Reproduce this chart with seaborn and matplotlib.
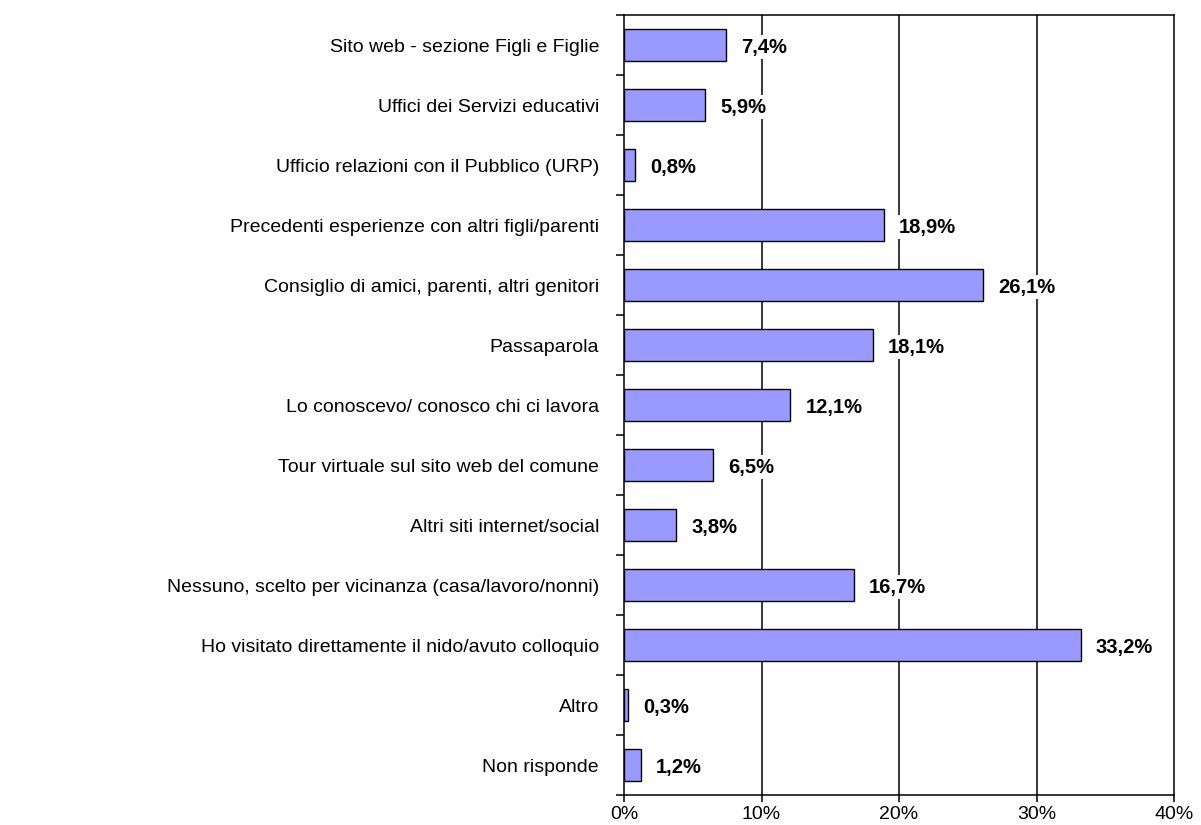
import numpy as np
import pandas as pd
import matplotlib
matplotlib.use("Agg")
import matplotlib.pyplot as plt
import seaborn as sns
from matplotlib.ticker import FixedLocator, FuncFormatter

# data
categorie = [
    "Sito web - sezione Figli e Figlie",
    "Uffici dei Servizi educativi",
    "Ufficio relazioni con il Pubblico (URP)",
    "Precedenti esperienze con altri figli/parenti",
    "Consiglio di amici, parenti, altri genitori",
    "Passaparola",
    "Lo conoscevo/ conosco chi ci lavora",
    "Tour virtuale sul sito web del comune",
    "Altri siti internet/social",
    "Nessuno, scelto per vicinanza (casa/lavoro/nonni)",
    "Ho visitato direttamente il nido/avuto colloquio",
    "Altro",
    "Non risponde",
]
percentuali = [7.4, 5.9, 0.8, 18.9, 26.1, 18.1, 12.1, 6.5, 3.8, 16.7, 33.2, 0.3, 1.2]

df = pd.DataFrame({"cat": categorie, "pct": percentuali})

sns.set_theme(style="white")
plt.rcParams["font.family"] = ["Liberation Sans", "DejaVu Sans"]

fig = plt.figure(figsize=(12.01, 8.25), dpi=100)
ax = fig.add_axes([624 / 1201, 1 - 795 / 825, (1174 - 624) / 1201, (795 - 15) / 825])

sns.barplot(data=df, x="pct", y="cat", orient="h", color="#9999FF",
            edgecolor="black", linewidth=1.0, width=0.53, saturation=1, ax=ax)

ax.set_xlim(0, 40)
ax.set_ylim(len(categorie) - 0.5, -0.5)
ax.set_xticks([0, 10, 20, 30, 40])
ax.xaxis.set_major_formatter(FuncFormatter(lambda v, p: f"{v:.0f}%"))
for xv in [10, 20, 30]:
    ax.axvline(xv, color="black", lw=1.1, zorder=0)

ax.set_xlabel("")
ax.set_ylabel("")
for s in ax.spines.values():
    s.set_color("black")
    s.set_linewidth(1.1)

ax.tick_params(axis="y", which="major", length=0, pad=18, labelsize=14, labelcolor="black")
ax.yaxis.set_minor_locator(FixedLocator(np.arange(-0.5, len(categorie), 1.0)))
ax.tick_params(axis="y", which="minor", left=True, length=6, width=1.1, color="black")
ax.tick_params(axis="x", bottom=True, length=5, width=1.1, color="black", labelsize=14, labelcolor="black", pad=3)

# value labels sit on a white box that hides the gridlines behind them
for i, v in enumerate(percentuali):
    ax.text(v + 1.1, i, f"{v:.1f}%".replace(".", ","), va="center_baseline", ha="left",
            fontsize=14.5, fontweight="bold", color="black",
            bbox=dict(facecolor="white", edgecolor="none", pad=1.5))

fig.savefig("out.png", dpi=100)
